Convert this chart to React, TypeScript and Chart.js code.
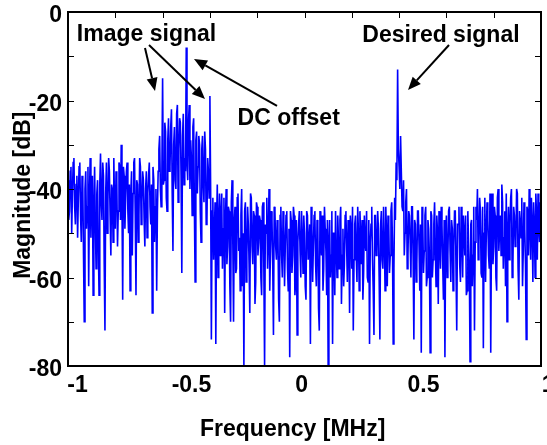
import React, { useEffect, useRef } from 'react';
import { Chart, registerables } from 'chart.js';

Chart.register(...registerables);

// ---- Data ----
const freqStart = -1; // MHz, first FFT bin
const freqStep = 1 / 320; // MHz per bin

// -1 .. -0.625 MHz
const magLeftNoise = [
  -38, -47, -45, -36, -35, -50, -41, -34, -33, -44,
  -48, -39, -37, -51, -42, -35, -34, -46, -52, -37,
  -39, -55, -70, -40, -36, -49, -44, -35, -62, -42,
  -33, -51, -40, -37, -64, -45, -35, -48, -58, -41,
  -38, -52, -64, -39, -32, -43, -47, -34, -37, -57,
  -72, -41, -34, -50, -43, -33, -36, -46, -55, -39,
  -40, -52, -33, -44, -49, -36, -38, -53, -45, -34,
  -35, -47, -30, -42, -65, -35, -37, -49, -42, -36,
  -34, -45, -50, -39, -63, -41, -36, -55, -41, -34,
  -33, -46, -64, -38, -39, -52, -46, -33, -35, -48,
  -43, -36, -38, -47, -53, -40, -36, -51, -41, -37,
  -34, -44, -48, -39, -68, -35, -38, -52, -44, -40,
  -63,
];

// -0.622 .. -0.4 MHz (image signal + DC offset)
const magImageRegion = [
  -45,
  -36, -31, -28, -40, -44, -37, -15, -39, -38, -25,
  -27, -42, -45, -29, -24, -36, -35, -26, -22, -41,
  -54, -30, -26, -38, -40, -23, -21, -43, -31, -24,
  -25, -37, -59, -28, -23, -39, -33, -36, -8, -34,
  -38, -25, -21, -40, -29, -33, -46, -26, -24, -44,
  -61, -29, -27, -41, -35, -28, -30, -45, -52, -31,
  -28, -39, -43, -27, -31, -48, -47, -33, -36, -42,
  -19,
];

// -0.397 .. 0.375 MHz
const magMidNoise = [
  -40,
  -74, -45, -42, -56, -50, -43, -75, -48, -39, -60,
  -47, -41, -55, -46, -41, -58, -49, -42, -68, -47,
  -40, -57, -53, -44, -45, -62, -70, -43, -38, -52,
  -70, -47, -44, -59, -58, -42, -41, -54, -51, -63,
  -46, -40, -62, -50, -80, -45, -43, -61, -55, -44,
  -48, -57, -68, -41, -42, -53, -57, -45, -46, -66,
  -61, -43, -44, -55, -52, -46, -47, -60, -64, -44,
  -43, -58, -80, -48, -50, -42, -58, -51, -40, -63,
  -54, -45, -47, -57, -73, -44, -45, -53, -56, -47,
  -49, -65, -70, -46, -44, -55, -60, -45, -48, -62,
  -53, -46, -45, -58, -63, -49, -78, -45, -47, -59,
  -55, -44, -46, -64, -61, -47, -73, -52, -48, -45,
  -54, -60, -45, -50, -59, -46, -50, -62, -65, -45,
  -46, -56, -56, -48, -75, -44, -49, -61, -53, -46,
  -45, -57, -62, -47, -48, -67, -72, -45, -51, -55,
  -46, -63, -58, -44, -49, -54, -64, -47, -80, -52,
  -47, -60, -55, -45, -75, -50, -50, -64, -45, -53,
  -60, -46, -52, -58, -47, -44, -66, -55, -49, -62,
  -57, -46, -45, -53, -61, -47, -51, -68, -46, -49,
  -58, -44, -72, -56, -48, -46, -55, -61, -44, -50,
  -63, -45, -50, -57, -47, -65, -59, -46, -52, -54,
  -45, -60, -61, -47, -75, -52, -48, -44, -56, -63,
  -73, -46, -46, -55, -54, -45, -49, -60, -74, -48,
  -45, -56, -58, -44, -51, -63, -44, -50, -62, -46,
  -48, -59, -55, -45, -43, -52, -75,
];

// 0.378 .. 1 MHz (desired signal + noise)
const magRightNoise = [
  -58,
  -42, -47, -34, -38, -13, -31, -35, -40, -28, -36,
  -44, -45, -38, -55, -50, -43, -40, -58, -55, -45,
  -46, -52, -60, -44, -44, -56, -74, -47, -48, -61,
  -57, -45, -45, -53, -63, -48, -77, -44, -47, -59,
  -54, -46, -44, -62, -60, -47, -49, -55, -77, -45,
  -46, -60, -56, -48, -43, -53, -62, -46, -50, -66,
  -45, -52, -58, -44, -48, -57, -65, -47, -78, -51,
  -46, -60, -55, -45, -44, -54, -61, -47, -49, -63,
  -53, -45, -45, -58, -72, -48, -48, -44, -57, -61,
  -44, -50, -60, -46, -50, -55, -46, -64, -63, -45,
  -52, -57, -79, -48, -47, -62, -55, -44, -72, -52,
  -44, -47, -40, -56, -52, -42, -45, -59, -60, -44,
  -76, -50, -42, -61, -50, -43, -47, -55, -58, -41,
  -77, -49, -41, -57, -53, -44, -46, -60, -63, -42,
  -40, -54, -49, -46, -55, -39, -43, -58, -51, -45,
  -62, -41, -70, -50, -44, -56, -48, -42, -40, -60,
  -57, -44, -46, -53, -52, -40, -41, -58, -65, -45,
  -47, -51, -42, -62, -54, -43, -49, -57, -74, -44,
  -45, -55, -40, -48, -56, -42, -48, -61, -43, -47,
  -60, -41, -46, -56, -41, -49, -52, -43, -45,
];

const magnitudeDb = [...magLeftNoise, ...magImageRegion, ...magMidNoise, ...magRightNoise];
const frequencyMHz = magnitudeDb.map((_, i) => freqStart + i * freqStep);

// Axes
const xMin = -1;
const xMax = 1;
const yMin = -80;
const yMax = 0;
const xTickValues = [-1, -0.8, -0.6, -0.4, -0.2, 0, 0.2, 0.4, 0.6, 0.8, 1];
const yTickValues = [0, -10, -20, -30, -40, -50, -60, -70, -80];
const xTickLabels = ['-1', '-0.5', '0', '0.5', '1'];
const xTickLabelAt = [-0.96, -0.478, -0.012, 0.503, 1.03];
const yTickLabels = ['0', '-20', '-40', '-60', '-80'];
const yTickLabelAt = [0, -20, -40, -60, -80];

const xTitle = 'Frequency [MHz]';
const yTitle = 'Magnitude [dB]';

// Annotations (data coordinates)
const annotationTexts = [
  { text: 'Image signal', x: -0.668, y: -6.55 },
  { text: 'DC offset', x: -0.0668, y: -25.54 },
  { text: 'Desired signal', x: 0.577, y: -6.89 },
];
const annotationArrows = [
  { from: [-0.6744, -8.14], to: [-0.6321, -17.85] },
  { from: [-0.6575, -7.46], to: [-0.4207, -19.66] },
  { from: [-0.1163, -21.24], to: [-0.4672, -10.62] },
  { from: [0.611, -7.46], to: [0.4376, -17.63] },
];

const FONT = 'bold 23px "Liberation Sans", Arial, Helvetica, sans-serif';

const matlabAxesPlugin = {
  id: 'matlabAxes',
  afterDraw(chart: any) {
    const { ctx, chartArea: a, scales } = chart;
    const xs = scales.x;
    const ys = scales.y;
    ctx.save();

    // frame
    ctx.strokeStyle = '#000';
    ctx.lineWidth = 2;
    ctx.strokeRect(a.left, a.top, a.right - a.left, a.bottom - a.top);

    // inward ticks: top, left, right
    ctx.lineWidth = 1;
    ctx.beginPath();
    for (const v of xTickValues) {
      const px = Math.round(xs.getPixelForValue(v)) + 0.5;
      ctx.moveTo(px, a.top);
      ctx.lineTo(px, a.top + 6);
    }
    for (const v of yTickValues) {
      const py = Math.round(ys.getPixelForValue(v)) + 0.5;
      ctx.moveTo(a.left, py);
      ctx.lineTo(a.left + 6, py);
      ctx.moveTo(a.right, py);
      ctx.lineTo(a.right - 6, py);
    }
    ctx.stroke();

    ctx.fillStyle = '#000';
    ctx.font = FONT;
    ctx.textBaseline = 'alphabetic';

    // x tick labels
    ctx.textAlign = 'center';
    xTickLabels.forEach((t, i) => {
      ctx.fillText(t, xs.getPixelForValue(xTickLabelAt[i]), a.bottom + 26);
    });
    // y tick labels
    ctx.textAlign = 'right';
    yTickLabels.forEach((t, i) => {
      ctx.fillText(t, a.left - 6, ys.getPixelForValue(yTickLabelAt[i]) + 10);
    });

    // axis titles
    ctx.textAlign = 'center';
    ctx.fillText(xTitle, xs.getPixelForValue(-0.05), a.bottom + 70);
    ctx.save();
    ctx.translate(a.left - 38, ys.getPixelForValue(-41.4));
    ctx.rotate(-Math.PI / 2);
    ctx.fillText(yTitle, 0, 0);
    ctx.restore();

    // annotation texts
    for (const t of annotationTexts) {
      ctx.fillText(t.text, xs.getPixelForValue(t.x), ys.getPixelForValue(t.y));
    }

    // arrows
    ctx.lineWidth = 2;
    for (const ar of annotationArrows) {
      const x0 = xs.getPixelForValue(ar.from[0]);
      const y0 = ys.getPixelForValue(ar.from[1]);
      const x1 = xs.getPixelForValue(ar.to[0]);
      const y1 = ys.getPixelForValue(ar.to[1]);
      const ang = Math.atan2(y1 - y0, x1 - x0);
      const headLen = 13;
      const headHalf = 5.5;
      const bx = x1 - headLen * Math.cos(ang);
      const by = y1 - headLen * Math.sin(ang);
      ctx.beginPath();
      ctx.moveTo(x0, y0);
      ctx.lineTo(bx, by);
      ctx.stroke();
      ctx.beginPath();
      ctx.moveTo(x1, y1);
      ctx.lineTo(bx + headHalf * Math.sin(ang), by - headHalf * Math.cos(ang));
      ctx.lineTo(bx - headHalf * Math.sin(ang), by + headHalf * Math.cos(ang));
      ctx.closePath();
      ctx.fill();
    }

    ctx.restore();
  },
};

export default function App() {
  const canvasRef = useRef<HTMLCanvasElement | null>(null);

  useEffect(() => {
    const canvas = canvasRef.current;
    if (!canvas) return;
    const chart = new Chart(canvas, {
      type: 'line',
      data: {
        datasets: [
          {
            data: frequencyMHz.map((f, i) => ({ x: f, y: magnitudeDb[i] })),
            borderColor: '#0000ff',
            borderWidth: 1.6,
            pointRadius: 0,
            tension: 0,
            fill: false,
          },
        ],
      },
      options: {
        animation: false,
        responsive: false,
        devicePixelRatio: 1,
        layout: { padding: { left: 68, top: 12, right: 6, bottom: 79 } },
        scales: {
          x: { type: 'linear', min: xMin, max: xMax, display: false },
          y: { type: 'linear', min: yMin, max: yMax, display: false },
        },
        plugins: {
          legend: { display: false },
          tooltip: { enabled: false },
        },
        events: [],
      },
      plugins: [matlabAxesPlugin],
    });
    return () => chart.destroy();
  }, []);

  return (
    <div style={{ position: 'fixed', left: 0, top: 0, width: 547, height: 445, background: '#fff' }}>
      <canvas ref={canvasRef} width={547} height={445} style={{ display: 'block' }} />
    </div>
  );
}
